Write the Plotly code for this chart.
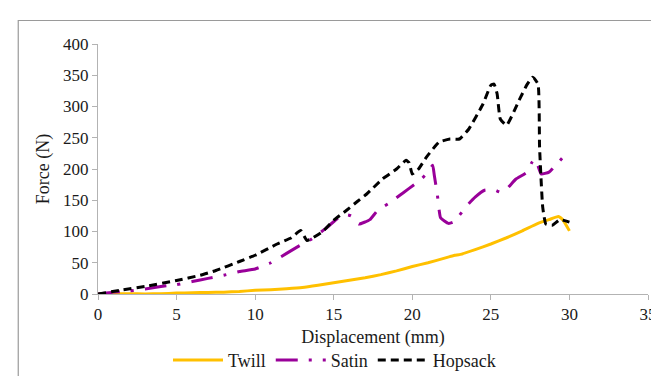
import plotly.graph_objects as go

# ---------------- data ----------------
twill_x = [0, 1, 2, 3, 4, 5, 6, 7, 8, 9, 10, 11, 12, 13, 14, 15, 16, 17, 18, 19, 20,
           21, 22, 22.7, 23, 24, 25, 26, 27, 28, 28.7, 29.3, 29.6, 30]
twill_y = [0, 0.5, 0.5, 0, 0.5, 1.5, 2, 2.5, 3, 4, 6, 7, 8.5, 10.5, 14, 18, 22, 26, 31, 37, 44,
           50, 57, 62, 63, 71, 80, 90, 101, 113, 119, 124, 118, 101]

satin_x = [0, 1, 2, 3, 4, 5, 6, 7, 8, 9, 10, 11, 12, 12.8, 13.6, 14.5, 15.2, 15.7, 16.1, 16.6,
           17.3, 17.8, 18.5, 19.1, 19.8, 20.5, 21.0, 21.3, 21.4, 21.6, 21.8, 22.3, 22.6, 23.0,
           23.5, 24.0, 24.6, 25.2, 25.6, 26.0, 26.6, 27.3, 27.6, 27.8, 28.0, 28.2, 28.7, 29.2, 30]
satin_y = [0, 3, 5, 8, 12, 15, 20, 25, 30, 36, 40, 50, 65, 77, 88, 105, 120, 127, 125, 112,
           119, 134, 145, 156, 169, 182, 195, 206, 190, 158, 122, 113, 115, 126,
           142, 155, 166, 167, 163, 168, 184, 195, 210, 216, 205, 192, 195, 208, 230]

hopsack_x = [0, 1.6, 3, 5, 6.5, 7.5, 9, 10, 11.4, 12.3, 12.9, 13.3, 14.3, 15.0, 15.8, 16.5,
             17.1, 18.1, 19.0, 19.6, 19.8, 20.0, 20.4, 20.9, 21.7, 22.4, 23.0, 23.6, 24.5,
             25.0, 25.2, 25.4, 25.6, 26.0, 26.8, 27.3, 27.66, 28.0, 28.1, 28.3, 28.5, 28.9,
             29.4, 30]
hopsack_y = [0, 6.7, 12, 21.6, 30, 37.6, 52, 62, 80, 90, 101.6, 85.6, 100, 118, 133.6, 148,
             160, 184, 200, 214, 210, 192, 200, 219, 243, 248, 248, 264, 304,
             334, 336, 320, 280, 270, 310, 335, 347, 336, 235, 139, 112, 110,
             119, 115]

x_ticks = [0, 5, 10, 15, 20, 25, 30, 35]
y_ticks = [0, 50, 100, 150, 200, 250, 300, 350, 400]

FONT = "'Liberation Serif', 'Times New Roman', Times, serif"
TXT = "#1a1a1a"
AXC = "#b3b3b3"

fig = go.Figure()
fig.add_trace(go.Scatter(x=twill_x, y=twill_y, mode="lines", name="Twill",
                         line=dict(color="#FFC000", width=3, shape="spline", smoothing=0.4)))
fig.add_trace(go.Scatter(x=satin_x, y=satin_y, mode="lines", name="Satin",
                         line=dict(color="#990099", width=3, dash="22px,11px,3px,11px",
                                   shape="spline", smoothing=0.4)))
fig.add_trace(go.Scatter(x=hopsack_x, y=hopsack_y, mode="lines", name="Hopsack",
                         line=dict(color="#000000", width=3, dash="8px,5px",
                                   shape="spline", smoothing=0.4)))

fig.update_layout(
    width=651, height=368,
    margin=dict(l=90, r=11, t=36, b=82, autoexpand=False),
    paper_bgcolor="white", plot_bgcolor="white",
    font=dict(family=FONT, color=TXT, size=17),
    showlegend=True,
    legend=dict(orientation="h", x=0.43, xanchor="center", y=-0.265, yanchor="middle",
                font=dict(family=FONT, size=18, color=TXT), itemwidth=50,
                bgcolor="rgba(0,0,0,0)"),
    xaxis=dict(range=[0, 35], tickvals=x_ticks, showgrid=False, zeroline=False,
               showline=True, linecolor=AXC, linewidth=1, automargin=False,
               ticks="outside", ticklen=5, tickcolor=AXC, ticklabeloverflow="allow",
               tickfont=dict(family=FONT, size=17, color=TXT),
               title=dict(text="Displacement (mm)", font=dict(family=FONT, size=18, color=TXT),
                          standoff=6)),
    yaxis=dict(range=[0, 400], tickvals=y_ticks, showgrid=False, zeroline=False,
               showline=True, linecolor=AXC, linewidth=1, automargin=False,
               ticks="outside", ticklen=5, tickcolor=AXC,
               tickfont=dict(family=FONT, size=17, color=TXT),
               title=dict(text="Force (N)", font=dict(family=FONT, size=18, color=TXT),
                          standoff=8)),
    shapes=[dict(type="rect", xref="paper", yref="paper",
                 x0=-0.145, x1=1.2, y0=-0.6, y1=1.094,
                 line=dict(color="#9a9a9a", width=1.2), fillcolor="rgba(0,0,0,0)",
                 layer="below")],
)

fig.write_html("out.html")
